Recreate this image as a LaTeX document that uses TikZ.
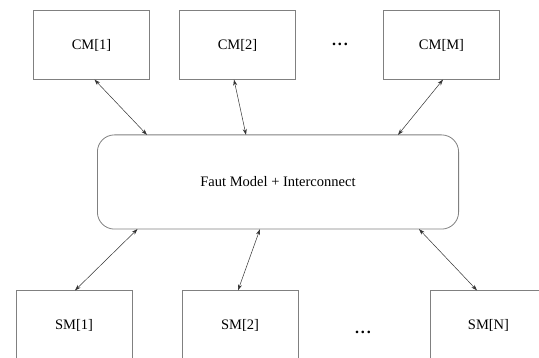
\documentclass[tikz,border=0pt]{standalone}
\usepackage{fontspec}
\setmainfont{Liberation Serif}
\usetikzlibrary{arrows.meta}

\begin{document}
\begin{tikzpicture}[x=1pt, y=-1pt,
  every node/.style={font=\fontsize{14.5}{17}\selectfont, outer sep=0pt},
  unit/.style={draw=black!50, line width=0.8pt, minimum width=117pt-\pgflinewidth, minimum height=70pt-\pgflinewidth},
  hub/.style={draw=black!50, line width=0.8pt, rounded corners=17pt, minimum width=362pt-\pgflinewidth, minimum height=95pt-\pgflinewidth},
  gap/.style={inner sep=0pt, font=\fontsize{16}{18}\selectfont\bfseries},
  link/.style={black!80, line width=0.5pt, {Stealth[length=6pt,width=4pt]}-{Stealth[length=6pt,width=4pt]}}]
\clip (0,0) rectangle (539,358);

% cache modules
\node[unit] (cm1) at (91.5,45) {CM[1]};
\node[unit] (cm2) at (237.5,45) {CM[2]};
\node[gap] (cmdots) at (340,44) {.\kern1.8pt.\kern1.8pt.};
\node[unit] (cmm) at (441.5,45) {CM[M]};

% fault model and interconnect
\node[hub] (fm) at (278,182) {Faut Model + Interconnect};

% storage modules
\node[unit] (sm1) at (74,325) {SM[1]};
\node[unit] (sm2) at (240,325) {SM[2]};
\node[gap] (smdots) at (363,332) {.\kern1.8pt.\kern1.8pt.};
\node[unit] (smn) at (488.5,325) {SM[N]};

\draw[link] ([xshift=3pt]cm1.south) -- ([xshift=-131pt]fm.north);
\draw[link] ([xshift=-3.5pt]cm2.south) -- ([xshift=-32pt]fm.north);
\draw[link] ([xshift=1.5pt]cmm.south) -- ([xshift=120pt]fm.north);

\draw[link] ([xshift=-140.5pt]fm.south) -- ([xshift=1pt]sm1.north);
\draw[link] ([xshift=-18pt]fm.south) -- ([xshift=-2pt]sm2.north);
\draw[link] ([xshift=141pt]fm.south) -- ([xshift=-11.5pt]smn.north);
\end{tikzpicture}
\end{document}
